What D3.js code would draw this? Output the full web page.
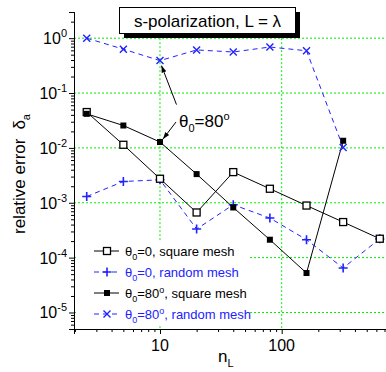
<!DOCTYPE html>
<html>
<head>
<meta charset="utf-8">
<script src="https://cdn.jsdelivr.net/npm/d3@7"></script>
<style>
  body { margin: 0; background: #fff; }
  text { font-family: "Liberation Sans", Arial, sans-serif; }
</style>
</head>
<body>
<svg id="chart" width="386" height="372"></svg>
<script>
// n_L values on the x axis
const nL = [2.5, 5, 10, 20, 40, 80, 160, 320, 640];
// relative error for each series
const sq0 = [0.045, 0.0114, 0.00274, 0.000665, 0.00362, 0.0018, 0.00089, 0.000445, 0.000221];
const rnd0 = [0.0013, 0.00244, 0.00262, 0.000332, 0.00092, 0.000526, 0.000212, 0.0000647, 0.00022];
const sq80 = [0.0418, 0.0256, 0.0128, 0.00333, 0.00082, 0.000212, 0.0000524, 0.0135];
const rnd80 = [1.0, 0.63, 0.39, 0.61, 0.56, 0.69, 0.59, 0.0102];
const yMajor = [1, 1e-1, 1e-2, 1e-3, 1e-4, 1e-5];
const yExp = ['0', '-1', '-2', '-3', '-4', '-5'];
const xMajor = [10, 100];
const xLabels = ['10', '100'];

const svg = d3.select('#chart'),
  margin = {top: 12, right: 0, bottom: 43, left: 74},
  width = +svg.attr('width') - margin.left - margin.right,
  height = +svg.attr('height') - margin.top - margin.bottom;

const x = d3.scaleLog().domain([1.965, 720]).range([0, width]),
  y = d3.scaleLog().domain([5e-6, 3]).range([height, 0]);

const g = svg.append('g')
  .attr('transform', 'translate(' + margin.left + ',' + margin.top + ')');

const blue = '#2222ff';
const green = '#00ee00';

// minor ticks 2..9 per decade
function minors(lo, hi) {
  const out = [];
  for (let e = Math.floor(Math.log10(lo)); e <= Math.ceil(Math.log10(hi)); e++) {
    for (let k = 2; k <= 9; k++) {
      const v = k * Math.pow(10, e);
      if (v >= lo && v <= hi) out.push(v);
    }
  }
  return out;
}

// grid
g.selectAll('.hgrid').data(yMajor).enter().append('line')
  .attr('x1', 0).attr('x2', width)
  .attr('y1', d => y(d)).attr('y2', d => y(d))
  .attr('stroke', green).attr('stroke-width', 1).attr('stroke-dasharray', '2,2');
g.selectAll('.vgrid').data(xMajor).enter().append('line')
  .attr('x1', d => x(d)).attr('x2', d => x(d))
  .attr('y1', y(1)).attr('y2', height)
  .attr('stroke', green).attr('stroke-width', 1).attr('stroke-dasharray', '2,2');

// axes
const axY = g.append('g').call(d3.axisLeft(y).tickValues(yMajor).tickSize(5).tickFormat(''));
g.append('g').call(d3.axisLeft(y).tickValues(minors(5e-6, 3)).tickSize(3).tickFormat(''));
g.append('g').attr('transform', 'translate(0,' + height + ')')
  .call(d3.axisBottom(x).tickValues(xMajor).tickSize(5).tickFormat(''));
g.append('g').attr('transform', 'translate(0,' + height + ')')
  .call(d3.axisBottom(x).tickValues(minors(1.965, 720)).tickSize(3).tickFormat(''));
g.selectAll('.domain').attr('stroke', '#000').attr('stroke-width', 1);
g.selectAll('.tick line').attr('stroke', '#000');

// y tick labels with superscripts
yMajor.forEach(function (v, i) {
  const t = g.append('text')
    .attr('x', -7).attr('y', y(v) + 6)
    .attr('text-anchor', 'end')
    .attr('font-size', 16).attr('fill', '#000');
  t.append('tspan').text('10');
  t.append('tspan').attr('dy', -7).attr('font-size', 11).text(yExp[i]);
});
xMajor.forEach(function (v, i) {
  g.append('text')
    .attr('x', x(v)).attr('y', height + 22)
    .attr('text-anchor', 'middle')
    .attr('font-size', 16).text(xLabels[i]);
});

// axis titles
const xt = svg.append('text').attr('x', 218).attr('y', 362).attr('font-size', 17);
xt.append('tspan').text('n');
xt.append('tspan').attr('dy', 5).attr('font-size', 11).text('L');

const yt = svg.append('text')
  .attr('transform', 'translate(25,174) rotate(-90)')
  .attr('text-anchor', 'middle').attr('font-size', 17);
yt.append('tspan').text('relative error');
yt.append('tspan').attr('dx', 9).text('δ');
yt.append('tspan').attr('dy', 5).attr('font-size', 11).text('a');

// series
const series = [
  {vals: rnd80, color: blue, dash: '5,4', marker: 'x'},
  {vals: rnd0, color: blue, dash: '5,4', marker: 'plus'},
  {vals: sq0, color: '#000', dash: null, marker: 'open'},
  {vals: sq80, color: '#000', dash: null, marker: 'filled'}
];

const line = d3.line().x(d => x(d[0])).y(d => y(d[1]));

function drawMarker(sel, type, color, cx, cy) {
  if (type === 'open') {
    sel.append('rect').attr('x', cx - 3.5).attr('y', cy - 3.5).attr('width', 7).attr('height', 7)
      .attr('fill', '#fff').attr('stroke', '#000').attr('stroke-width', 1.3);
  } else if (type === 'filled') {
    sel.append('rect').attr('x', cx - 3).attr('y', cy - 3).attr('width', 6).attr('height', 6)
      .attr('fill', '#000');
  } else if (type === 'plus') {
    sel.append('path').attr('d', 'M' + (cx - 4.5) + ',' + cy + 'H' + (cx + 4.5) + 'M' + cx + ',' + (cy - 4.5) + 'V' + (cy + 4.5))
      .attr('stroke', color).attr('stroke-width', 1.6).attr('fill', 'none');
  } else {
    sel.append('path').attr('d', 'M' + (cx - 3.5) + ',' + (cy - 3.5) + 'L' + (cx + 3.5) + ',' + (cy + 3.5) +
      'M' + (cx - 3.5) + ',' + (cy + 3.5) + 'L' + (cx + 3.5) + ',' + (cy - 3.5))
      .attr('stroke', color).attr('stroke-width', 1.4).attr('fill', 'none');
  }
}

series.forEach(function (s) {
  const pts = s.vals.map((v, i) => [nL[i], v]);
  g.append('path').datum(pts)
    .attr('d', line).attr('fill', 'none')
    .attr('stroke', s.color).attr('stroke-width', 1)
    .attr('stroke-dasharray', s.dash);
});
series.forEach(function (s) {
  const mg = g.append('g');
  s.vals.forEach(function (v, i) {
    drawMarker(mg, s.marker, s.color, x(nL[i]), y(v));
  });
});

// legend
const legend = g.append('g').attr('transform', 'translate(0,229)');
legend.append('rect').attr('x', 2).attr('y', 0).attr('width', 174).attr('height', 84).attr('fill', '#fff');
const legItems = [
  {th: '0', deg: false, txt: ', square mesh', color: '#000', dash: null, marker: 'open'},
  {th: '0', deg: false, txt: ', random mesh', color: blue, dash: '5,4', marker: 'plus'},
  {th: '80', deg: true, txt: ', square mesh', color: '#000', dash: null, marker: 'filled'},
  {th: '80', deg: true, txt: ', random mesh', color: blue, dash: '5,4', marker: 'x'}
];
legItems.forEach(function (it, i) {
  const yy = 10 + i * 21;
  legend.append('line').attr('x1', 20).attr('x2', 45).attr('y1', yy).attr('y2', yy)
    .attr('stroke', it.color).attr('stroke-width', 1).attr('stroke-dasharray', it.dash);
  drawMarker(legend, it.marker, it.color, 33, yy);
  const t = legend.append('text').attr('x', 51).attr('y', yy + 5)
    .attr('font-size', 13).attr('fill', it.color);
  t.append('tspan').text('θ');
  t.append('tspan').attr('dy', 4).attr('font-size', 9).text('0');
  t.append('tspan').attr('dy', -4).text('=' + it.th);
  if (it.deg) {
    t.append('tspan').attr('dy', -5).attr('font-size', 9).text('o');
    t.append('tspan').attr('dy', 5).text(it.txt);
  } else {
    t.append('tspan').text(it.txt);
  }
});

// title box
const tb = svg.append('g');
tb.append('rect').attr('x', 124).attr('y', 12).attr('width', 176).attr('height', 26).attr('fill', '#000');
tb.append('rect').attr('x', 119.5).attr('y', 7.5).attr('width', 176).attr('height', 26)
  .attr('fill', '#fff').attr('stroke', '#000').attr('stroke-width', 1);
tb.append('text').attr('x', 207.5).attr('y', 27).attr('text-anchor', 'middle')
  .attr('font-size', 17).text('s-polarization, L = λ');

// annotation with arrows
svg.append('defs').append('marker')
  .attr('id', 'ah').attr('viewBox', '0 0 10 10').attr('refX', 10).attr('refY', 5)
  .attr('markerWidth', 7).attr('markerHeight', 7).attr('orient', 'auto')
  .append('path').attr('d', 'M0,1.5L10,5L0,8.5Z').attr('fill', '#000');

const ax = margin.left + x(10);
const a1 = margin.top + y(rnd80[2]);
const a2 = margin.top + y(sq80[2]);
svg.append('line').attr('x1', ax + 16.5).attr('y1', a1 + 44).attr('x2', ax + 1.5).attr('y2', a1 + 5)
  .attr('stroke', '#000').attr('stroke-width', 1).attr('marker-end', 'url(#ah)');
svg.append('line').attr('x1', ax + 16).attr('y1', a2 - 20).attr('x2', ax + 3).attr('y2', a2 - 3)
  .attr('stroke', '#000').attr('stroke-width', 1).attr('marker-end', 'url(#ah)');
const at = svg.append('text').attr('x', ax + 19).attr('y', a1 + 66).attr('font-size', 17);
at.append('tspan').text('θ');
at.append('tspan').attr('dy', 5).attr('font-size', 11).text('0');
at.append('tspan').attr('dy', -5).text('=80');
at.append('tspan').attr('dy', -7).attr('font-size', 11).text('o');
</script>
</body>
</html>
